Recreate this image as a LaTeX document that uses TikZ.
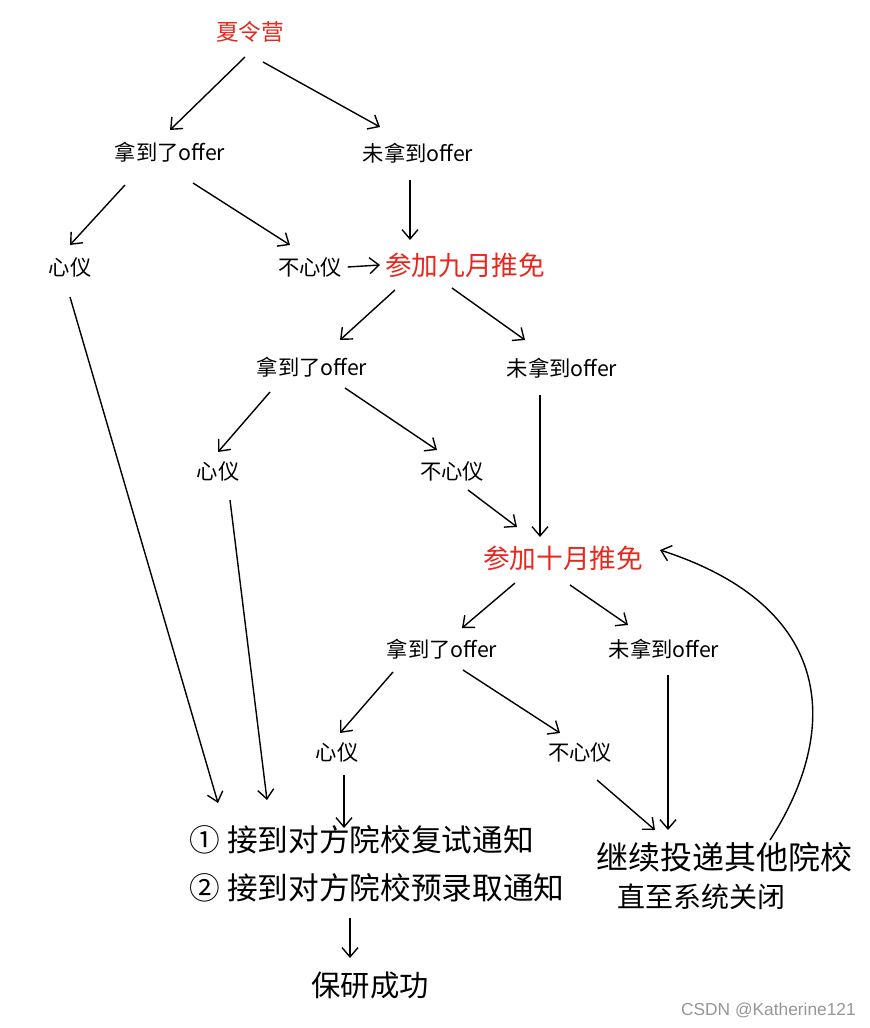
\documentclass[tikz,border=0pt]{standalone}
\usepackage{fontspec}
\setmainfont{Noto Sans CJK SC}
\newfontfamily\wmfont{Liberation Sans}
\usetikzlibrary{arrows.meta,calc}
\definecolor{hred}{RGB}{232,40,30}
\definecolor{wmgray}{RGB}{150,150,150}
\begin{document}
\begin{tikzpicture}[x=0.75pt,y=-0.75pt,
  mid/.style={inner sep=1pt,font=\fontsize{16}{19}\selectfont},
  red/.style={inner sep=1pt,text=hred,font=\fontsize{20}{24}\selectfont},
  note/.style={inner sep=1pt,anchor=west,font=\fontsize{23}{27}\selectfont},
  arr/.style={draw=black,line width=1.05pt,-{Straight Barb[length=7pt,width=12pt,line width=1.05pt]}}]
\useasboundingbox (0,0) rectangle (870,1028);
% nodes
\node[red,font=\fontsize{17}{20}\selectfont] (xly) at (250,32) {夏令营};
\node[mid] (nd1) at (170,152) {拿到了offer};
\node[mid] (wn1) at (418,153) {未拿到offer};
\node[mid] (xin1) at (70,267) {心仪};
\node[mid] (bxin1) at (310,267) {不心仪};
\node[red] (jiu) at (465,265) {参加九月推免};
\node[mid] (nd2) at (312,367) {拿到了offer};
\node[mid] (wn2) at (562,368) {未拿到offer};
\node[mid] (xin2) at (218,471) {心仪};
\node[mid] (bxin2) at (452,471) {不心仪};
\node[red] (shi) at (563,558) {参加十月推免};
\node[mid] (nd3) at (442,649) {拿到了offer};
\node[mid] (wn3) at (664,649) {未拿到offer};
\node[mid] (xin3) at (337,752) {心仪};
\node[mid] (bxin3) at (580,752) {不心仪};
\node[note] (n1) at (188,840) {① 接到对方院校复试通知};
\node[note] (n2) at (188,888) {② 接到对方院校预录取通知};
\node[inner sep=1pt,font=\fontsize{22}{26}\selectfont] (cg) at (370,985) {保研成功};
\node[note,font=\fontsize{24}{28}\selectfont] (jx) at (595,857) {继续投递其他院校};
\node[note,font=\fontsize{21}{25}\selectfont] (zz) at (616,897) {直至系统关闭};
\node[inner sep=0pt,anchor=east,text=wmgray,font=\wmfont\fontsize{13}{15}\selectfont] (wm) at (856,1010) {CSDN @Katherine121};
% connectors
\draw[arr] ($(xly)+(-5,25)$) -- ($(nd1)+(0,-22)$);
\draw[arr] ($(xly)+(13,30)$) -- ($(wn1)+(-38,-26)$);
\draw[arr] ($(nd1)+(-45,33)$) -- ($(xin1)+(0,-22)$);
\draw[arr] ($(nd1)+(23,31)$) -- ($(bxin1)+(-20,-22)$);
\draw[arr] ($(wn1)+(-8,27)$) -- ($(jiu)+(-55,-25)$);
\draw[arr] ($(bxin1.east)+(4,0)$) -- ($(jiu)+(-85,0)$);
\draw[arr] ($(jiu)+(-70,25)$) -- ($(nd2)+(28,-27)$);
\draw[arr] ($(jiu)+(-13,23)$) -- ($(wn2)+(-37,-28)$);
\draw[arr] ($(nd2)+(-42,25)$) -- ($(xin2)+(0,-19)$);
\draw[arr] ($(nd2)+(33,21)$) -- ($(bxin2)+(-15,-21)$);
\draw[arr] ($(bxin2)+(16,19)$) -- ($(shi)+(-46,-31)$);
\draw[arr] ($(wn2)+(-22,27)$) -- ($(shi)+(-23,-21)$);
\draw[arr] ($(shi)+(-48,25)$) -- ($(nd3)+(20,-21)$);
\draw[arr] ($(shi)+(7,27)$) -- ($(wn3)+(-36,-24)$);
\draw[arr] ($(nd3)+(-49,23)$) -- ($(xin3)+(3,-19)$);
\draw[arr] ($(nd3)+(21,21)$) -- ($(bxin3)+(-20,-19)$);
\draw[arr] ($(xin3)+(7,23)$) -- ($(n1.west)+(156,-12)$);
\draw[arr] ($(xin1)+(0,30)$) -- ($(n1.west)+(30,-37)$);
\draw[arr] ($(xin2)+(12,29)$) -- ($(n1.west)+(79,-40)$);
\draw[arr] ($(bxin3)+(17,28)$) -- ($(jx.west)+(60,-27)$);
\draw[arr] ($(wn3)+(4,26)$) -- ($(jx.west)+(73,-27)$);
\draw[arr] ($(n2.west)+(162,30)$) -- ($(cg)+(-20,-27)$);
\draw[arr] ($(jx.west)+(175,-17)$) .. controls (835,740) and (845,610) .. ($(shi)+(97,-8)$);
\end{tikzpicture}
\end{document}
